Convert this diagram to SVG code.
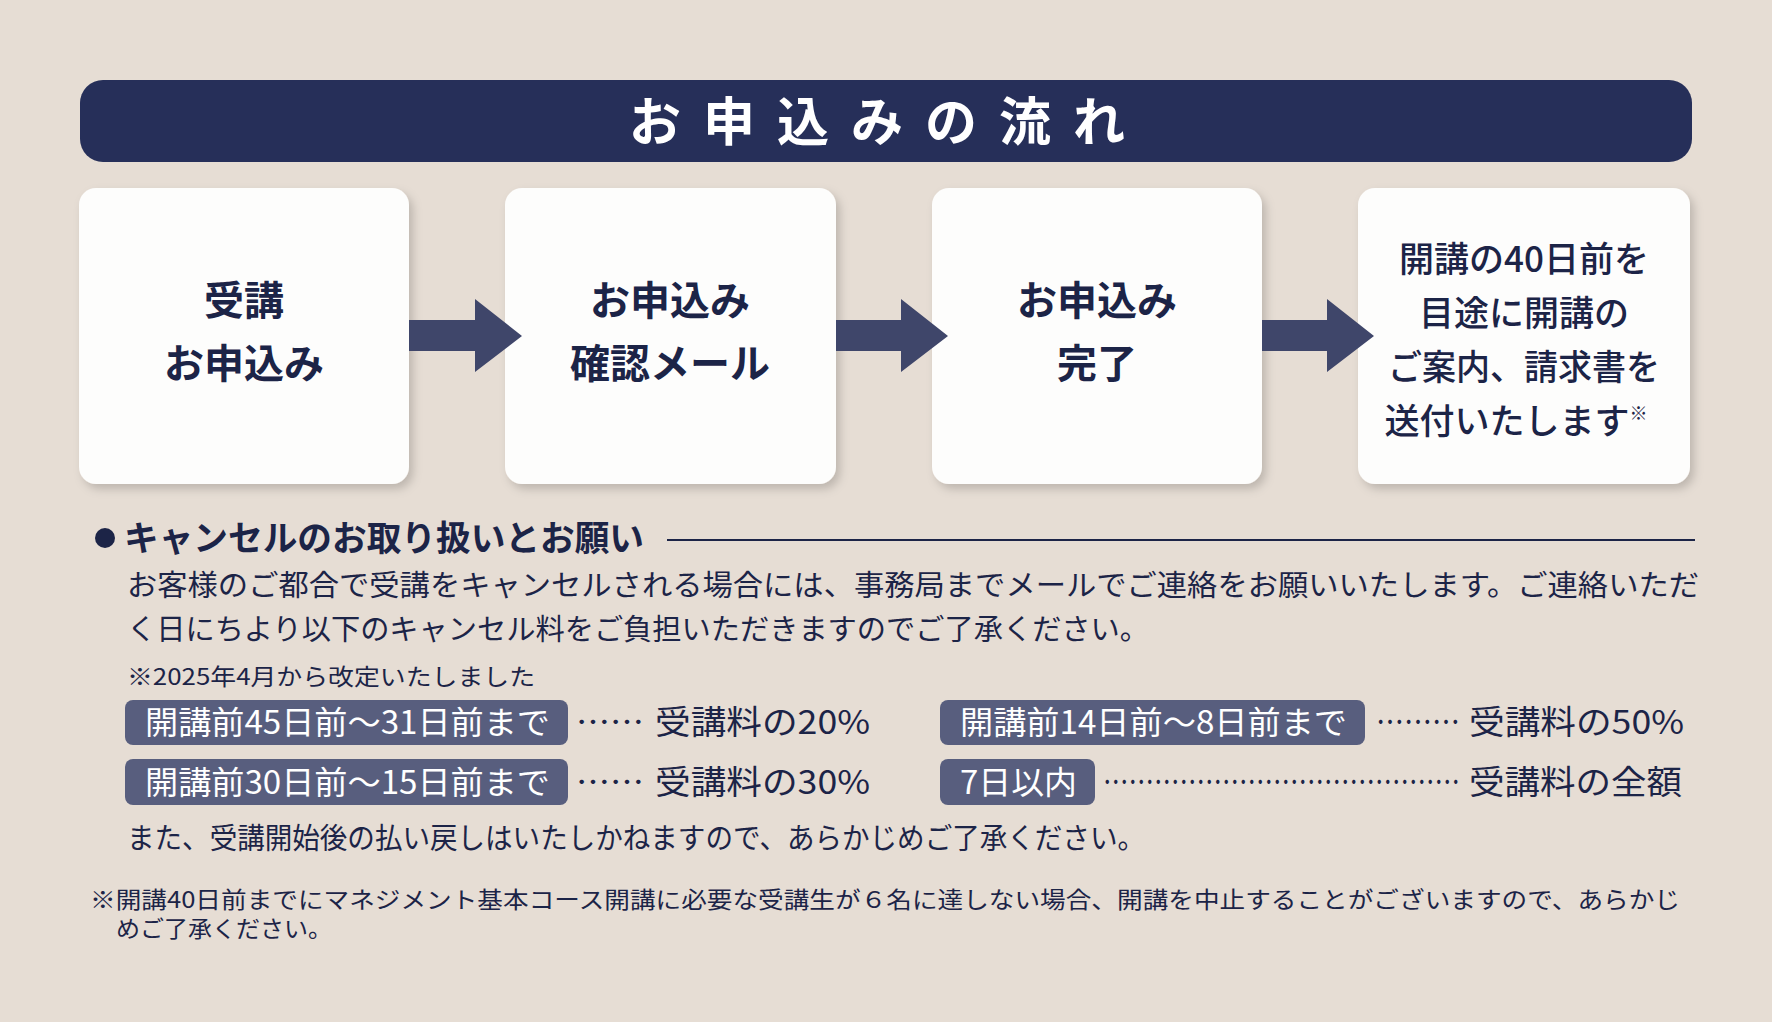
<svg xmlns="http://www.w3.org/2000/svg" width="1772" height="1022" viewBox="0 0 1772 1022">
<defs>
<style>
text{font-family:"Noto Sans CJK JP","Noto Sans",sans-serif;fill:#1c2447}
.box{fill:#fdfdfc}
.bt{font-size:40px;font-weight:700;text-anchor:middle}
.bt4{font-size:35px;font-weight:500;text-anchor:middle}
.p{font-size:29px}
.r{font-size:33px}
.s{font-size:23px}
.pill{fill:#585e7e}
.pt{font-size:32px;fill:#fff}
.arrow{fill:#3f466a}
</style>
<filter id="sh" x="-10%" y="-10%" width="125%" height="125%"><feDropShadow dx="4" dy="5" stdDeviation="5" flood-color="#000" flood-opacity="0.18"/></filter>
</defs>
<rect width="1772" height="1022" fill="#e6ddd4"/>
<g id="title">
<rect x="80" y="80" width="1612" height="82" rx="23" fill="#262f59"/>
<text x="888" y="141" font-size="52" font-weight="700" text-anchor="middle" letter-spacing="22" style="fill:#fff">お申込みの流れ</text>
</g>
<g id="step1"><rect class="box" x="79" y="188" width="330" height="296" rx="17" filter="url(#sh)"/>
<text class="bt" x="244" y="315">受講</text><text class="bt" x="244" y="378">お申込み</text></g>
<g id="step2"><rect class="box" x="505" y="188" width="331" height="296" rx="17" filter="url(#sh)"/>
<text class="bt" x="670" y="315">お申込み</text><text class="bt" x="670" y="378">確認メール</text></g>
<g id="step3"><rect class="box" x="932" y="188" width="330" height="296" rx="17" filter="url(#sh)"/>
<text class="bt" x="1097" y="315">お申込み</text><text class="bt" x="1097" y="378">完了</text></g>
<g id="step4"><rect class="box" x="1358" y="188" width="332" height="296" rx="17" filter="url(#sh)"/>
<text class="bt4" x="1524" y="272">開講の40日前を</text>
<text class="bt4" x="1524" y="326">目途に開講の</text>
<text class="bt4" x="1524" y="380" textLength="272" lengthAdjust="spacingAndGlyphs">ご案内、請求書を</text>
<text class="bt4" x="1516" y="434">送付いたします<tspan font-size="18" dy="-14">※</tspan></text></g>
<g id="connectors">
<polygon class="arrow" points="409,320 475,320 475,299 522,336 475,372 475,351 409,351"/>
<polygon class="arrow" points="836,320 901,320 901,299 948,336 901,372 901,351 836,351"/>
<polygon class="arrow" points="1262,320 1327,320 1327,299 1374,336 1327,372 1327,351 1262,351"/>
</g>
<g id="cancel">
<circle cx="105" cy="538" r="10" fill="#1c2447"/>
<text x="124" y="551" font-size="35" font-weight="700" textLength="520" lengthAdjust="spacingAndGlyphs">キャンセルのお取り扱いとお願い</text>
<line x1="667" y1="540" x2="1695" y2="540" stroke="#1c2447" stroke-width="2"/>
<text class="p" x="127" y="596" textLength="1572" lengthAdjust="spacingAndGlyphs">お客様のご都合で受講をキャンセルされる場合には、事務局までメールでご連絡をお願いいたします。ご連絡いただ</text>
<text class="p" x="127" y="640" textLength="1022" lengthAdjust="spacingAndGlyphs">く日にちより以下のキャンセル料をご負担いただきますのでご了承ください。</text>
<text class="s" x="127" y="685" textLength="408" lengthAdjust="spacingAndGlyphs">※2025年4月から改定いたしました</text>
<rect class="pill" x="125" y="700" width="443" height="45" rx="8"/>
<text class="pt" x="145" y="734" textLength="405" lengthAdjust="spacingAndGlyphs">開講前45日前～31日前まで</text>
<text class="r" x="576" y="734" textLength="68" lengthAdjust="spacingAndGlyphs">……</text><text class="r" x="655" y="734" textLength="215" lengthAdjust="spacingAndGlyphs">受講料の20%</text>
<rect class="pill" x="940" y="700" width="425" height="45" rx="8"/>
<text class="pt" x="960" y="734" textLength="387" lengthAdjust="spacingAndGlyphs">開講前14日前～8日前まで</text>
<text class="r" x="1376" y="734" textLength="84" lengthAdjust="spacingAndGlyphs">………</text><text class="r" x="1469" y="734" textLength="215" lengthAdjust="spacingAndGlyphs">受講料の50%</text>
<rect class="pill" x="125" y="759" width="443" height="46" rx="8"/>
<text class="pt" x="145" y="794" textLength="405" lengthAdjust="spacingAndGlyphs">開講前30日前～15日前まで</text>
<text class="r" x="576" y="794" textLength="68" lengthAdjust="spacingAndGlyphs">……</text><text class="r" x="655" y="794" textLength="215" lengthAdjust="spacingAndGlyphs">受講料の30%</text>
<rect class="pill" x="940" y="759" width="155" height="46" rx="8"/>
<text class="pt" x="960" y="794" textLength="117" lengthAdjust="spacingAndGlyphs">7日以内</text>
<text class="r" x="1103" y="794" textLength="357" lengthAdjust="spacingAndGlyphs">……………………………………</text><text class="r" x="1469" y="794" textLength="213" lengthAdjust="spacingAndGlyphs">受講料の全額</text>
<text class="p" x="127" y="849" textLength="1018" lengthAdjust="spacingAndGlyphs">また、受講開始後の払い戻しはいたしかねますので、あらかじめご了承ください。</text>
<text class="s" x="90" y="908" textLength="1590" lengthAdjust="spacingAndGlyphs">※開講40日前までにマネジメント基本コース開講に必要な受講生が６名に達しない場合、開講を中止することがございますので、あらかじ</text>
<text class="s" x="116" y="937" textLength="216" lengthAdjust="spacingAndGlyphs">めご了承ください。</text>
</g>
</svg>
